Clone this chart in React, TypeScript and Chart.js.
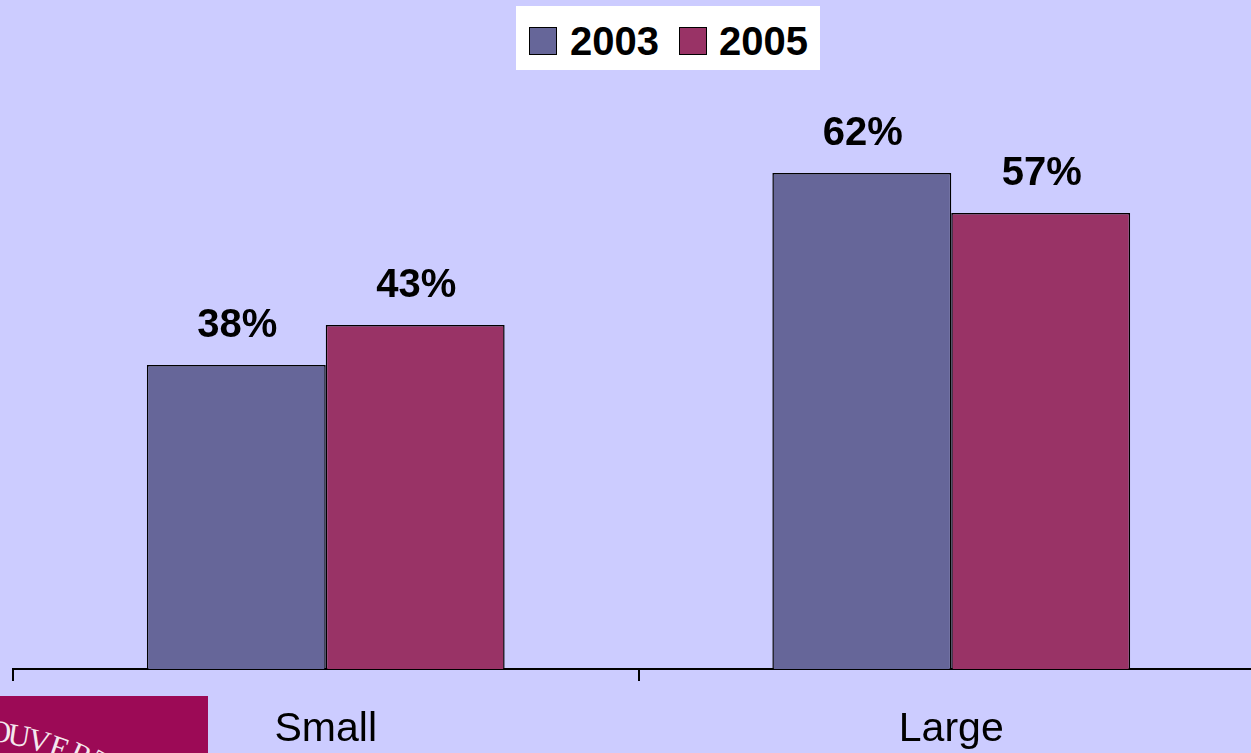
import React, { useEffect, useRef } from "react";
import { Chart, registerables } from "chart.js";

Chart.register(...registerables);

const categories = ["Small", "Large"];
const seriesNames = ["2003", "2005"];
const values2003 = [38, 62];
const values2005 = [43, 57];
const seriesColors = ["#666699", "#993366"];

const FONT = "'Liberation Sans', Arial, Helvetica, sans-serif";

const valueLabels = {
  id: "valueLabels",
  afterDatasetsDraw(chart: any) {
    const ctx = chart.ctx;
    ctx.save();
    ctx.font = `bold 40px ${FONT}`;
    ctx.fillStyle = "#000000";
    ctx.textAlign = "center";
    ctx.textBaseline = "alphabetic";
    chart.data.datasets.forEach((ds: any, di: number) => {
      const meta = chart.getDatasetMeta(di);
      meta.data.forEach((bar: any, i: number) => {
        ctx.fillText(`${ds.data[i]}%`, bar.x + 1, bar.y - 28);
      });
    });
    ctx.restore();
  },
};

const logoLetters = [
  { ch: "O", left: -11, top: 716, rot: 4 },
  { ch: "U", left: 8, top: 720, rot: 9 },
  { ch: "V", left: 28, top: 725, rot: 14 },
  { ch: "E", left: 50, top: 732, rot: 19 },
  { ch: "R", left: 71, top: 739, rot: 24 },
  { ch: "T", left: 92, top: 747, rot: 29 },
];

export default function App() {
  const canvasRef = useRef<HTMLCanvasElement | null>(null);

  useEffect(() => {
    const canvas = canvasRef.current;
    if (!canvas) return;
    const chart = new Chart(canvas, {
      type: "bar",
      data: {
        labels: categories,
        datasets: [
          {
            label: seriesNames[0],
            data: values2003,
            backgroundColor: seriesColors[0],
            borderColor: "#000000",
            borderWidth: 1.5,
          },
          {
            label: seriesNames[1],
            data: values2005,
            backgroundColor: seriesColors[1],
            borderColor: "#000000",
            borderWidth: 1.5,
          },
        ],
      },
      options: {
        responsive: false,
        animation: false,
        devicePixelRatio: 1,
        layout: { padding: { left: 13, right: 16, top: 109, bottom: 0 } },
        datasets: {
          bar: { categoryPercentage: 0.572, barPercentage: 1 },
        },
        plugins: {
          legend: { display: false },
          tooltip: { enabled: false },
        },
        scales: {
          x: {
            grid: {
              display: true,
              drawOnChartArea: false,
              drawTicks: true,
              tickLength: 12,
              color: "#000000",
              lineWidth: 2,
              offset: true,
            },
            border: { display: true, color: "#000000", width: 2 },
            ticks: {
              color: "#000000",
              font: { family: FONT, size: 41 },
              padding: 24,
              maxRotation: 0,
            },
            afterFit: (scale: any) => {
              scale.height = 131;
            },
          },
          y: {
            display: false,
            min: 0,
            max: 70,
          },
        },
      },
      plugins: [valueLabels],
    });
    return () => chart.destroy();
  }, []);

  return (
    <div
      style={{
        position: "fixed",
        left: 0,
        top: 0,
        width: 1251,
        height: 753,
        overflow: "hidden",
        background: "#CCCCFF",
      }}
    >
      <canvas
        ref={canvasRef}
        width={1280}
        height={800}
        style={{ position: "absolute", left: 0, top: 0, width: 1280, height: 800 }}
      />
      <div
        style={{
          position: "absolute",
          left: 516,
          top: 6,
          width: 304,
          height: 64,
          background: "#FFFFFF",
        }}
      >
        {seriesNames.map((name, i) => (
          <React.Fragment key={name}>
            <div
              style={{
                position: "absolute",
                left: i === 0 ? 13 : 163,
                top: 21,
                width: 26,
                height: 26,
                background: seriesColors[i],
                border: "1px solid #000000",
              }}
            />
            <span
              style={{
                position: "absolute",
                left: i === 0 ? 54 : 203,
                top: 15,
                lineHeight: "40px",
                fontSize: 40,
                fontWeight: "bold",
                fontFamily: FONT,
                color: "#000000",
                whiteSpace: "nowrap",
              }}
            >
              {name}
            </span>
          </React.Fragment>
        ))}
      </div>
      <div
        style={{
          position: "absolute",
          left: 0,
          top: 696,
          width: 208,
          height: 60,
          background: "#9C0A56",
          overflow: "hidden",
        }}
      >
        {logoLetters.map((l, i) => (
          <span
            key={i}
            style={{
              position: "absolute",
              left: l.left,
              top: l.top - 696,
              fontFamily: "'Liberation Serif', 'DejaVu Serif', serif",
              fontSize: 31,
              lineHeight: "31px",
              color: "#F4E8EE",
              transform: `rotate(${l.rot}deg)`,
              transformOrigin: "center center",
            }}
          >
            {l.ch}
          </span>
        ))}
      </div>
    </div>
  );
}
